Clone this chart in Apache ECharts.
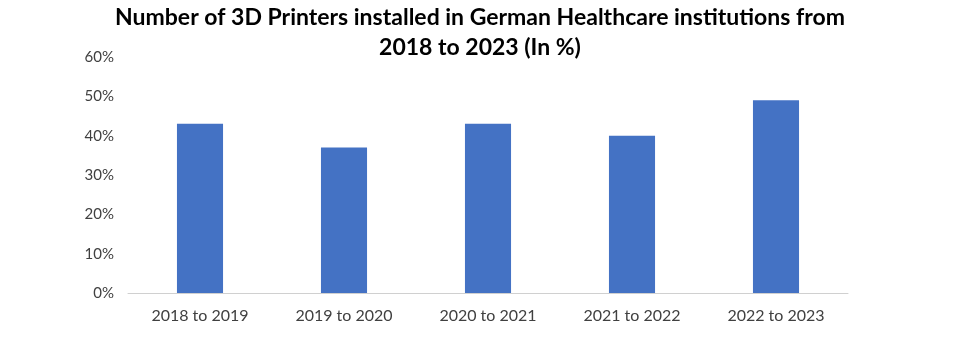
<!DOCTYPE html>
<html><head><meta charset="utf-8">
<script src="https://cdn.jsdelivr.net/npm/echarts@6/dist/echarts.min.js"></script>
<style>html,body{margin:0;padding:0;background:#fff}#c{width:955px;height:341px}</style>
</head><body><div id="c"></div>
<script>
const categories = ['2018 to 2019','2019 to 2020','2020 to 2021','2021 to 2022','2022 to 2023'];
const values = [43, 37, 43, 40, 49];
const titleText = 'Number of 3D Printers installed in German Healthcare institutions from\n2018 to 2023 (In %)';

const chart = echarts.init(document.getElementById('c'));
chart.setOption({
  animation: false,
  title: {
    text: titleText,
    left: 480, top: 3, padding: 0, textAlign: 'center',
    textStyle: {fontFamily: 'Lato', fontWeight: 'bold', fontSize: 23, color: '#000', lineHeight: 30}
  },
  grid: {left: 128, right: 107, top: 57, bottom: 48},
  xAxis: {
    type: 'category', data: categories,
    axisLine: {lineStyle: {color: '#d0d0d0', width: 1}},
    axisTick: {show: false},
    axisLabel: {fontFamily: 'Lato', fontSize: 16, color: '#404040', margin: 15}
  },
  yAxis: {
    type: 'value', min: 0, max: 60, interval: 10,
    axisLine: {show: false}, axisTick: {show: false},
    splitLine: {show: false},
    axisLabel: {formatter: '{value}%', fontFamily: 'Lato', fontSize: 15, color: '#404040', margin: 14}
  },
  series: [{
    type: 'bar', data: values, barWidth: '32%',
    itemStyle: {color: '#4472C4'}
  }]
});
</script></body></html>
